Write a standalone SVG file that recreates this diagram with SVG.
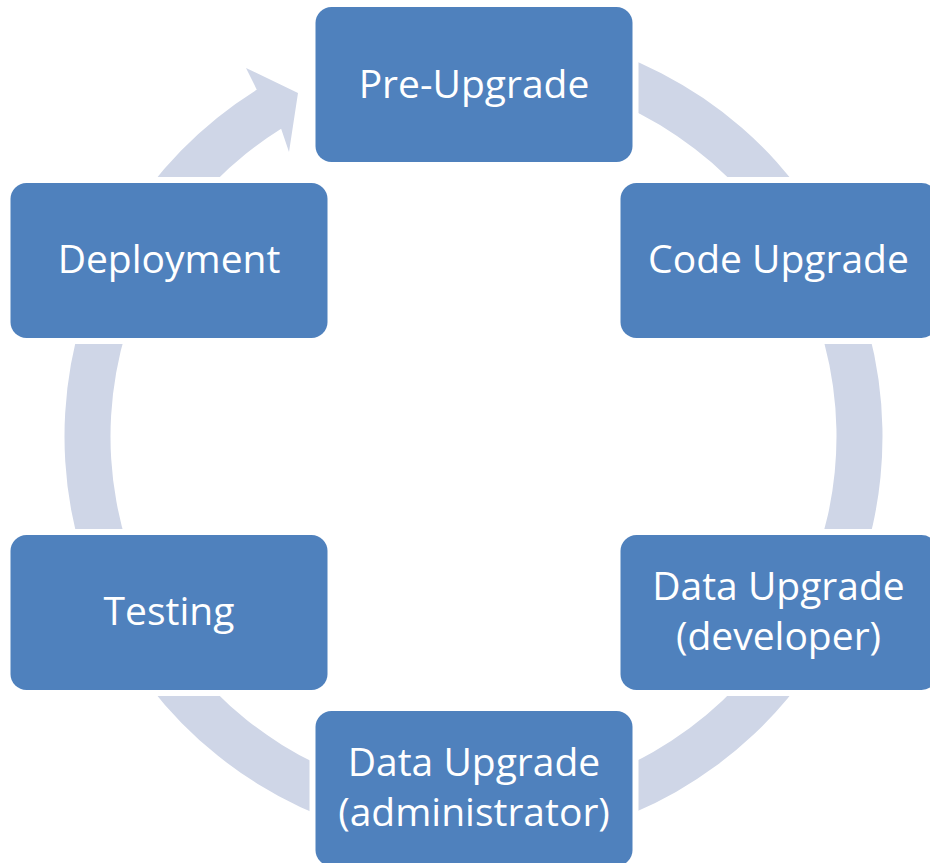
<svg xmlns="http://www.w3.org/2000/svg" width="930" height="863" viewBox="0 0 930 863">
  <style>
    .box { fill: #4F81BD; stroke: #FFFFFF; stroke-width: 12; paint-order: stroke; }
    .lbl { font-family: "Open Sans", "Liberation Sans", sans-serif; font-size: 39px; fill: #FFFFFF; text-anchor: middle; }
    .ring { fill: #CFD6E7; stroke: none; }
  </style>
  <rect x="0" y="0" width="930" height="863" fill="#FFFFFF"/>
  <g id="connectors">
    <path class="ring" d="M473.5,27.5 A409,409 0 1 1 256.76,89.65 L246,68 L298,93 L289,152 L281.14,128.66 A363,363 0 1 0 473.5,73.5 Z"/>
  </g>
  <g id="node-pre-upgrade">
    <rect class="box" x="315.5" y="7" width="317" height="155" rx="16" ry="16"/>
    <text class="lbl" x="474" y="98">Pre-Upgrade</text>
  </g>
  <g id="node-code-upgrade">
    <rect class="box" x="620.5" y="183" width="317" height="155" rx="16" ry="16"/>
    <text class="lbl" x="778.5" y="273">Code Upgrade</text>
  </g>
  <g id="node-data-upgrade-developer">
    <rect class="box" x="620.5" y="535" width="317" height="155" rx="16" ry="16"/>
    <text class="lbl" x="778.5" y="600">Data Upgrade</text>
    <text class="lbl" x="778.5" y="650">(developer)</text>
  </g>
  <g id="node-data-upgrade-administrator">
    <rect class="box" x="315.5" y="711" width="317" height="155" rx="16" ry="16"/>
    <text class="lbl" x="474" y="776">Data Upgrade</text>
    <text class="lbl" x="474" y="826">(administrator)</text>
  </g>
  <g id="node-testing">
    <rect class="box" x="10.5" y="535" width="317" height="155" rx="16" ry="16"/>
    <text class="lbl" x="169" y="625">Testing</text>
  </g>
  <g id="node-deployment">
    <rect class="box" x="10.5" y="183" width="317" height="155" rx="16" ry="16"/>
    <text class="lbl" x="169" y="273">Deployment</text>
  </g>
</svg>
